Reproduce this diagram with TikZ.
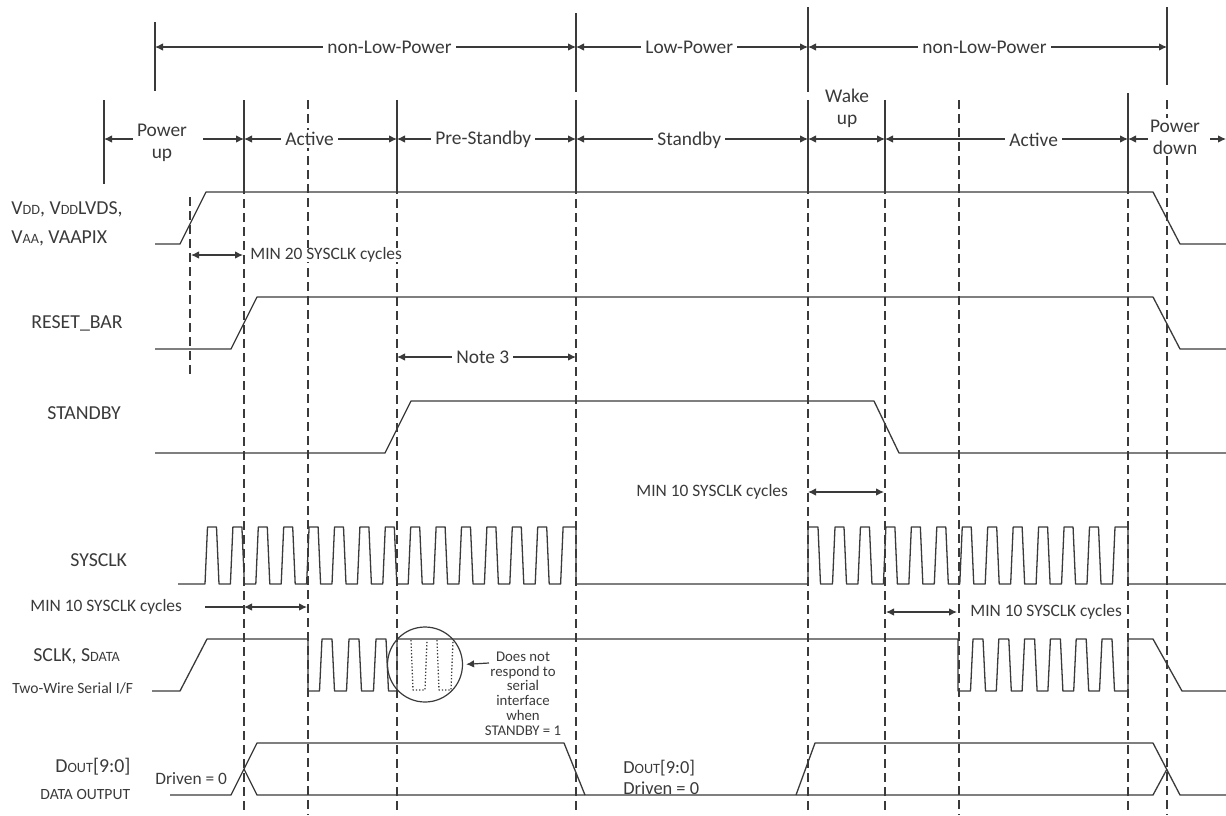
\documentclass[tikz,border=0pt]{standalone}
\usepackage{fontspec}
\setmainfont{Carlito}
\usetikzlibrary{positioning, arrows.meta}
\definecolor{ink}{HTML}{3A3A3A}
\newcommand{\smc}[1]{{\fontsize{7.1}{7}\selectfont #1}}

\tikzset{
  sig/.style={draw=ink, line width=0.65pt, line join=round},
  guide/.style={draw=ink, line width=0.6pt, dash pattern=on 4.5pt off 2.5pt},
  bound/.style={draw=ink, line width=0.65pt},
  span/.style={draw=ink, line width=0.6pt,
    {Latex[length=4pt,width=3.8pt]}-{Latex[length=4pt,width=3.8pt]}},
  tip/.style={draw=ink, line width=0.6pt, -{Latex[length=4pt,width=3.8pt]}},
  lbl/.style={text=ink, font=\fontsize{9.7}{11}\selectfont, inner sep=0pt},
  signame/.style={lbl, font=\fontsize{9.9}{11}\selectfont, anchor=west},
  cyc/.style={lbl, font=\fontsize{8.7}{10}\selectfont},
  tag/.style={lbl, fill=white, anchor=west, inner xsep=2pt, inner ysep=1pt},
  small/.style={lbl, font=\fontsize{7.8}{8}\selectfont},
}

\begin{document}
\begin{tikzpicture}[x=0.5pt, y=-0.5pt]
  \useasboundingbox (0,0) rectangle (1226,815);

  % phase boundaries
  \draw[bound] (155,22) -- (155,91);
  \draw[bound] (576,13) -- (576,92);
  \draw[bound] (808,7) -- (808,92);
  \draw[bound] (1167,7) -- (1167,85);
  \draw[bound] (104,100) -- (104,184);
  \foreach \x in {244,397,576,808,885} \draw[bound] (\x,100) -- (\x,185);
  \draw[bound] (1128,93) -- (1128,185);
  \foreach \x in {244,397,576,808,885,1128} \draw[guide] (\x,185) -- (\x,815);
  \foreach \x in {308,959,1167} \draw[guide] (\x,100) -- (\x,815);
  \draw[guide] (190,197) -- (190,376);

  % power modes
  \coordinate (t0) at (155,47);
  \coordinate (t1) at (576,47);
  \coordinate (t2) at (808,47);
  \coordinate (t3) at (1167,47);
  \draw[span] (t0) -- (t1);
  \draw[span] (t1) -- (t2);
  \draw[span] (t2) -- (t3);
  \node[tag] (nlp1) at (323,47) {non-Low-Power\hspace{10pt}};
  \node[tag] (lp) at (641,47) {Low-Power\hspace{10pt}};
  \node[tag] (nlp2) at (918,47) {non-Low-Power\hspace{10pt}};

  % states
  \coordinate (p0) at (104,139);
  \coordinate (p1) at (244,139);
  \coordinate (p2) at (397,139);
  \coordinate (p3) at (576,139);
  \coordinate (p4) at (808,139);
  \coordinate (p5) at (885,139);
  \coordinate (p6) at (1128,139);
  \coordinate (p7) at (1226,139);
  \coordinate (puL) at (133,139);
  \coordinate (puR) at (203,139);
  \coordinate (pdL) at (1148,139);
  \coordinate (pdR) at (1210,139);
  \draw[tip] (puL) -- (p0);
  \draw[tip] (puR) -- (p1);
  \draw[span] (p1) -- (p2);
  \draw[span] (p2) -- (p3);
  \draw[span] (p3) -- (p4);
  \draw[span] (p4) -- (p5);
  \draw[span] (p5) -- (p6);
  \draw[tip] (pdL) -- (p6);
  \draw[tip] (pdR) -- (p7);
  \node[lbl, align=center] (pu) at (162,142.5) {Power\\up};
  \node[tag] (act1) at (281,139) {Active\hspace{10pt}};
  \node[tag] (pre) at (431,139) {Pre-Standby\hspace{6pt}};
  \node[tag] (stb) at (653,140) {Standby\hspace{6pt}};
  \node[lbl, align=center] (wu) at (847,108.5) {Wake\\up};
  \node[tag] (act2) at (1005,140) {Active\hspace{6pt}};
  \node[lbl, align=center, fill=white, inner ysep=1pt] (pd) at (1175,137) {Power\\down};

  % signal names
  \node[signame] (vdd) at (11,209) {V\smc{DD}, V\smc{DD}LVDS,};
  \node[signame] (vaa) at (11,238) {V\smc{AA}, VAAPIX};
  \node[signame] (rst) at (31,323) {RESET\_BAR};
  \node[signame] (sby) at (47,413) {STANDBY};
  \node[signame] (clk) at (70,560) {SYSCLK};
  \node[signame] (sclk) at (33,656) {SCLK, S\smc{DATA}};
  \node[small, anchor=west] (twi) at (12,688) {Two-Wire Serial I/F};
  \node[signame] (dout) at (55,767) {D\smc{OUT}[9:0]};
  \node[small, anchor=west] (dat) at (40,794) {DATA OUTPUT};

  % waveforms
  \draw[sig] (155,244) -- (180,244) -- (206,192) -- (1153,192) -- (1180,244) -- (1226,244);
  \draw[sig] (155,349) -- (231,349) -- (257,297) -- (1153,297) -- (1180,349) -- (1226,349);
  \draw[sig] (155,453) -- (385,453) -- (411,401) -- (874,401) -- (899,453) -- (1226,453);
  \draw[sig] (178,584)
    foreach \k in {0,...,13} { -- ({205+25.4*\k},584) -- ++(2.5,-57) -- ++(9,0) -- ++(2.5,57) }
    -- (560.6,584) -- (563.1,527) -- (576,527) -- (576,584) -- (808,584)
    -- (808,527) -- (818,527) -- (820.5,584)
    foreach \k in {0,...,10} { -- ({832.5+25.45*\k},584) -- ++(2.5,-57) -- ++(9,0) -- ++(2.5,57) }
    -- (1112.5,584) -- (1115,527) -- (1128,527) -- (1128,584) -- (1226,584);
  \draw[sig] (152,691) -- (180,691) -- (207,639) -- (308,639) -- (308,691)
    foreach \k in {0,1,2} { -- ({319.5+27*\k},691) -- ++(2.5,-52) -- ++(10,0) -- ++(2.5,52) }
    -- (397,691) -- (397,639) -- (958,639) -- (958,691)
    foreach \k in {0,...,5} { -- ({970.5+25.8*\k},691) -- ++(2.5,-52) -- ++(10,0) -- ++(2.5,52) }
    -- (1128,691) -- (1128,639) -- (1153,639) -- (1182,691) -- (1226,691);
  \draw[sig, densely dotted] (411,640) -- (413,690) -- (425,690) -- (427,640);
  \draw[sig, densely dotted] (437,640) -- (439,690) -- (451,690) -- (453,640);
  \draw[sig] (170,795) -- (231,795) -- (257,743) -- (564,743) -- (585,795);
  \draw[sig] (244,769) -- (257,795) -- (1153,795) -- (1167,769);
  \draw[sig] (796,795) -- (815,743) -- (1153,743) -- (1180,795) -- (1226,795);

  % timing notes
  \coordinate (m20a) at (191,255);
  \coordinate (m20b) at (243,255);
  \draw[span] (m20a) -- (m20b);
  \node[tag, cyc] (m20) at (250,255) {MIN 20 SYSCLK cycles};

  \coordinate (n3a) at (397,357);
  \coordinate (n3b) at (576,357);
  \draw[span] (n3a) -- (n3b);
  \node[tag] (n3) at (452,357) {Note 3\hspace{6pt}};

  \coordinate (m10a) at (808,492);
  \coordinate (m10b) at (884,492);
  \draw[span] (m10a) -- (m10b);
  \node[cyc, anchor=west] (m10) at (636,492) {MIN 10 SYSCLK cycles};

  \coordinate (m1l) at (205,607);
  \coordinate (m1a) at (244,607);
  \coordinate (m1b) at (307,607);
  \draw[ink, line width=0.6pt] (m1l) -- (m1a);
  \draw[span] (m1a) -- (m1b);
  \node[cyc, anchor=west] (m1) at (30,607) {MIN 10 SYSCLK cycles};

  \coordinate (m2a) at (886,612);
  \coordinate (m2b) at (957,612);
  \draw[span] (m2a) -- (m2b);
  \node[tag, cyc] (m2) at (970,612) {MIN 10 SYSCLK cycles};

  % ignored serial traffic
  \node[circle, draw=ink, line width=0.6pt, minimum size=37.5pt, inner sep=0pt] (zoom) at (425,664.5) {};
  \node[lbl, align=center, font=\fontsize{7.4}{7.4}\selectfont] (ign) at (523,693.5)
    {Does not\\respond to\\serial\\interface\\when\\STANDBY = 1};
  \coordinate (ignA) at (489,663);
  \draw[tip, shorten >=1.5pt] (ignA) -- (zoom.east);

  % output states
  \node[cyc, anchor=west] (drv1) at (155,779) {Driven = 0};
  \node[lbl, anchor=west, align=left, font=\fontsize{9.2}{10.5}\selectfont] (drv2) at (623,777) {D\smc{OUT}[9:0]\\Driven = 0};
\end{tikzpicture}
\end{document}
